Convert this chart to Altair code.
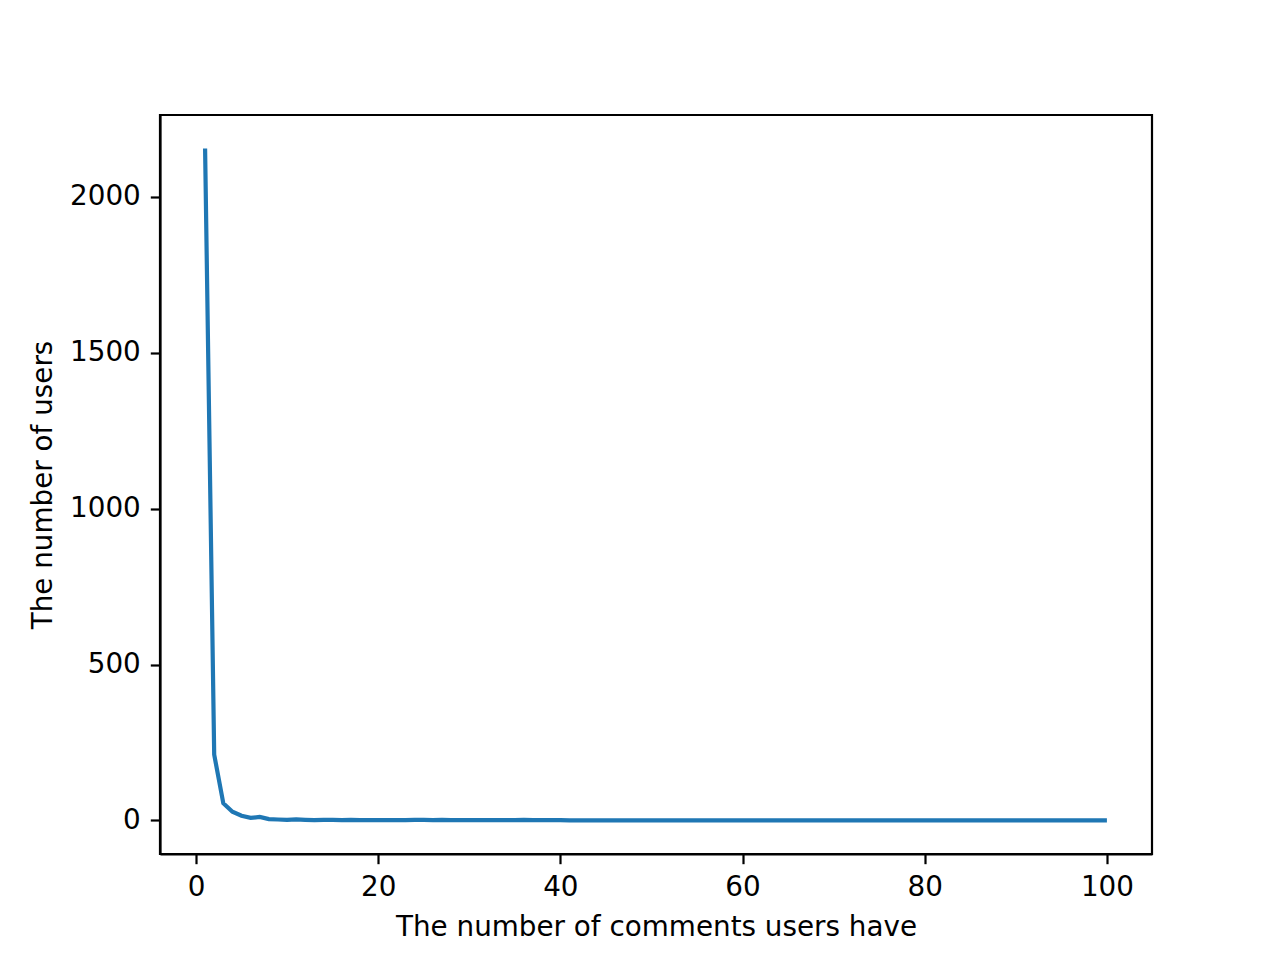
import altair as alt
import pandas as pd

comments = list(range(1, 101))
head_values = [2155, 211, 55, 28, 15, 8, 11, 4, 3, 2,
               3, 2, 1, 2, 2, 1, 2, 1, 1, 1,
               1, 1, 1, 2, 2, 1, 2, 1, 1, 1,
               1, 1, 1, 1, 1, 2, 1, 1, 1, 1]
tail_values = [0] * 60
users = head_values + tail_values

df = pd.DataFrame({"comments": comments, "users": users})

FONT = "DejaVu Sans"
FS = 27.8

line = alt.Chart(df).mark_line(color="#1f77b4", strokeWidth=4.2, clip=True).encode(
    x=alt.X("comments:Q",
            scale=alt.Scale(domain=[-3.95, 104.95], nice=False, zero=False),
            axis=alt.Axis(values=[0, 20, 40, 60, 80, 100], format="d",
                          title="The number of comments users have")),
    y=alt.Y("users:Q",
            scale=alt.Scale(domain=[-107.75, 2262.75], nice=False, zero=False),
            axis=alt.Axis(values=[0, 500, 1000, 1500, 2000], format="d",
                          title="The number of users")),
)

chart = line.properties(
    width=992, height=739,
    autosize=alt.AutoSizeParams(type="none"),
    padding={"left": 152, "top": 107, "right": 120, "bottom": 106},
    background="white",
).configure_view(
    stroke="black", strokeWidth=2.2
).configure_axis(
    grid=False,
    domainColor="black", domainWidth=2.2,
    tickColor="black", tickWidth=2.2, tickSize=9.7,
    labelFont=FONT, labelFontSize=FS, labelColor="black", labelPadding=10,
    titleFont=FONT, titleFontSize=FS, titleColor="black", titleFontWeight="normal",
    titlePadding=12,
)

chart.save("out.html", embed_options={"renderer": "svg", "actions": False})
